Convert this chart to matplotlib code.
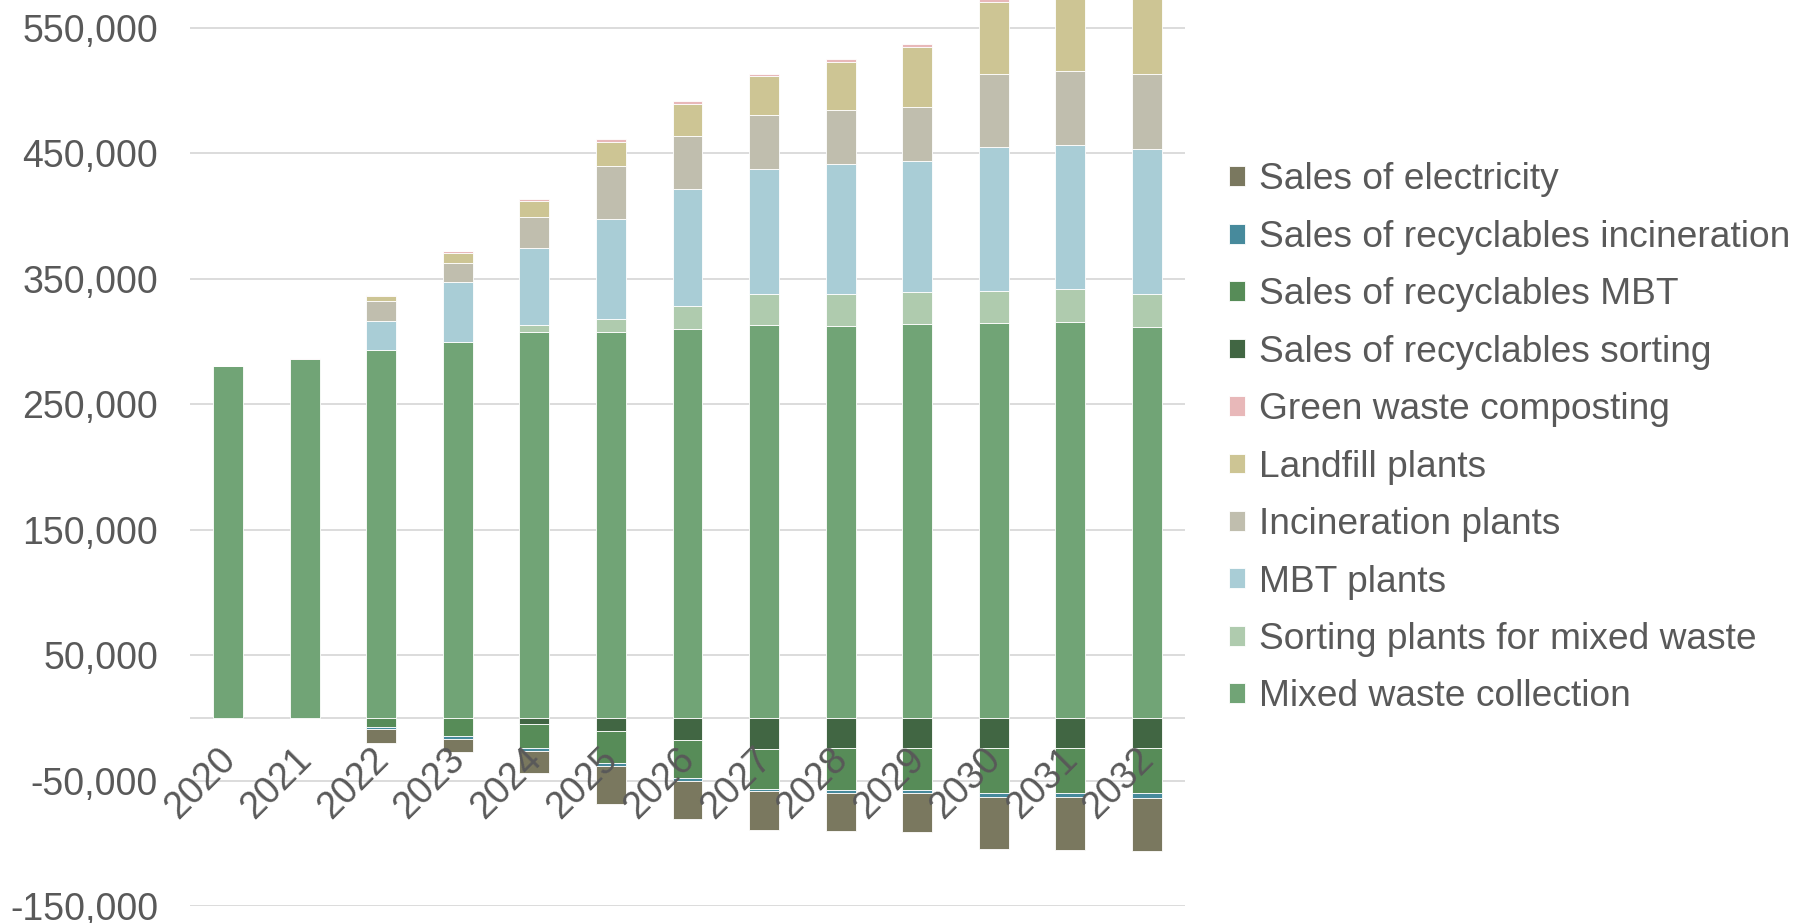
import numpy as np
import matplotlib
matplotlib.use("Agg")
import matplotlib.pyplot as plt
from matplotlib.ticker import FuncFormatter
from matplotlib.transforms import ScaledTranslation

plt.rcParams["font.family"] = ["Liberation Sans", "DejaVu Sans"]

years = [str(y) for y in range(2020, 2033)]

# costs (positive part of each column)
mixed_waste = [280300, 286100, 292800, 299700, 307650, 307650, 309800,
               313000, 312200, 314050, 314800, 315600, 311650]
sorting_plants = [0, 0, 0, 0, 5350, 9850, 18300, 24950, 25250, 25000,
                  25550, 25850, 26300]
mbt_plants = [0, 0, 23400, 47300, 61100, 80000, 93300, 99700, 103650,
              104450, 114300, 115050, 115600]
incineration = [0, 0, 15700, 15200, 24750, 42000, 42550, 42550, 43050,
                43550, 58200, 58750, 59550]
landfill = [0, 0, 4200, 8450, 13000, 19650, 25500, 31600, 38800, 47850,
            57950, 62000, 60000]
green_compost = [0, 600, 1000, 1600, 1600, 1900, 2150, 1600, 2400, 2150,
                 2000, 2000, 2000]

# revenues (negative part of each column)
rev_sorting = [0, 0, 0, 0, -5200, -10750, -17950, -24850, -24300, -24300,
               -24300, -24300, -24300]
rev_mbt = [0, 0, -7350, -14750, -19100, -25250, -30050, -31600, -33250,
           -32950, -35350, -35350, -35900]
rev_incineration = [0, 0, -1300, -1850, -1850, -2650, -2400, -2150, -2100,
                    -2400, -3750, -3500, -3450]
rev_electricity = [0, 0, -11200, -10650, -17850, -29750, -30550, -30850,
                   -30850, -31100, -41450, -41950, -42250]

series = [
    ("Mixed waste collection", mixed_waste, "#71a476"),
    ("Sorting plants for mixed waste", sorting_plants, "#afcbae"),
    ("MBT plants", mbt_plants, "#a9cdd6"),
    ("Incineration plants", incineration, "#c0beae"),
    ("Landfill plants", landfill, "#cdc594"),
    ("Green waste composting", green_compost, "#e8b8b9"),
    ("Sales of recyclables sorting", rev_sorting, "#416643"),
    ("Sales of recyclables MBT", rev_mbt, "#578c58"),
    ("Sales of recyclables incineration", rev_incineration, "#478a9c"),
    ("Sales of electricity", rev_electricity, "#7a785f"),
]

text_color = "#595959"
grid_color = "#d9d9d9"
fs = 27

fig = plt.figure(figsize=(18.1, 9.23), dpi=100)
ax = fig.add_axes([190 / 1810, 17 / 923, 995 / 1810, 906 / 923])

x = np.arange(len(years))
pos_bottom = np.zeros(len(years))
neg_bottom = np.zeros(len(years))
handles = []
for label, vals, color in series:
    vals = np.array(vals, dtype=float)
    base = np.where(vals >= 0, pos_bottom, neg_bottom)
    h = ax.bar(x, vals, width=0.39, bottom=base, color=color,
               edgecolor="white", linewidth=0.6, label=label, zorder=3)
    handles.append(h)
    pos_bottom += np.clip(vals, 0, None)
    neg_bottom += np.clip(vals, None, 0)

ax.set_xlim(-0.5, len(years) - 0.5)
ax.set_ylim(-150000, 572000)
ax.set_yticks(np.arange(-150000, 550001, 100000))
ax.yaxis.set_major_formatter(FuncFormatter(lambda v, p: f"{int(v):,}"))
ax.grid(axis="y", color=grid_color, linewidth=1.3, zorder=0)
ax.axhline(0, color=grid_color, linewidth=1.3, zorder=1)
ax.set_xticks([])
ax.tick_params(axis="y", length=0, pad=23, labelsize=fs, labelcolor=text_color)
for s in ax.spines.values():
    s.set_visible(False)

# year labels hang just under the zero line
offset = ScaledTranslation(0.015, -0.36, fig.dpi_scale_trans)
for i, yr in enumerate(years):
    ax.text(i, 0, yr, rotation=45, ha="right", va="center",
            rotation_mode="anchor", fontsize=fs, color=text_color,
            transform=ax.transData + offset, zorder=5)

fig.legend(handles=handles[::-1], loc="center left",
           bbox_to_anchor=(1229 / 1810, 0.525), frameon=False,
           fontsize=26.7, labelcolor=text_color, borderpad=0,
           borderaxespad=0, handlelength=0.42, handleheight=0.44,
           handletextpad=0.38, labelspacing=0.605)

fig.savefig("out.png", dpi=100)
